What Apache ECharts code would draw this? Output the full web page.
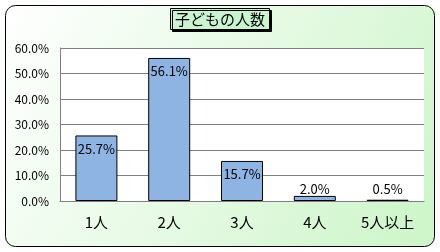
<!DOCTYPE html>
<html><head><meta charset="utf-8">
<script src="https://cdn.jsdelivr.net/npm/echarts@6/dist/echarts.min.js"></script>
<style>html,body{margin:0;padding:0;background:#fff;}#c{width:440px;height:252px;}</style>
</head><body><div id="c"></div>
<script>
var categories = ['1人', '2人', '3人', '4人', '5人以上'];
var values = [25.7, 56.1, 15.7, 2.0, 0.5];
var titleText = '子どもの人数';
var yMin = 0, yMax = 60, yStep = 10;

var FONT = '"Noto Sans CJK JP", "DejaVu Sans", sans-serif';
var chart = echarts.init(document.getElementById('c'), null, {renderer: 'canvas'});
var barData = values.map(function (v) {
  var small = v < 5;
  return {
    value: v,
    label: small ? {position: 'insideBottom', distance: 5} : {position: 'insideTop', distance: 7}
  };
});
chart.setOption({
  animation: false,
  backgroundColor: '#ffffff',
  graphic: [{
    type: 'rect', z: -10, silent: true,
    shape: {x: 5.5, y: 5.5, width: 429, height: 241, r: 10},
    style: {
      fill: new echarts.graphic.LinearGradient(0, 0, 1, 1, [
        {offset: 0, color: '#ffffff'},
        {offset: 1, color: '#ccf5c8'}
      ]),
      stroke: '#000', lineWidth: 1
    }
  }],
  title: {
    text: titleText, left: 'center', top: 8,
    padding: [4, 5, 3, 5],
    backgroundColor: '#c8f5d0', borderColor: '#000', borderWidth: 1,
    shadowColor: '#000', shadowBlur: 0, shadowOffsetX: 2, shadowOffsetY: 2,
    textStyle: {fontFamily: FONT, fontSize: 15, fontWeight: 'normal', color: '#000'}
  },
  grid: {left: 60, right: 16, top: 48, bottom: 51, show: true, backgroundColor: '#fff', borderWidth: 0},
  xAxis: {
    type: 'category', data: categories,
    axisLine: {lineStyle: {color: '#808080'}},
    axisTick: {show: false},
    axisLabel: {color: '#000', fontSize: 15, fontFamily: FONT, margin: 14}
  },
  yAxis: {
    type: 'value', min: yMin, max: yMax, interval: yStep,
    axisLine: {show: true, lineStyle: {color: '#808080'}},
    axisTick: {show: false},
    splitLine: {lineStyle: {color: '#808080'}},
    axisLabel: {color: '#000', fontSize: 12, fontFamily: FONT, margin: 11,
      formatter: function (v) { return v.toFixed(1) + '%'; }}
  },
  series: [{
    type: 'bar', data: barData, barWidth: 42,
    itemStyle: {color: '#8eb4e3', borderColor: '#000', borderWidth: 1},
    label: {show: true, color: '#000', fontSize: 13, fontFamily: FONT,
      formatter: function (p) { return p.value.toFixed(1) + '%'; }}
  }]
});
</script></body></html>
